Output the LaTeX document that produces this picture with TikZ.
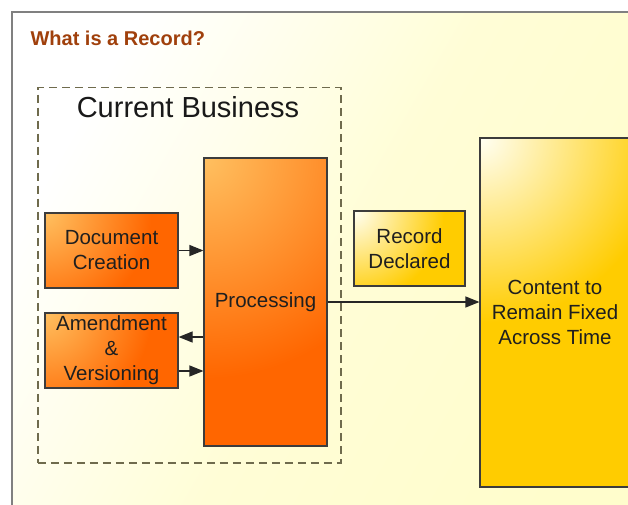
\documentclass[tikz,border=0pt]{standalone}
\usepackage{fontspec}
\setmainfont{Liberation Sans}
\usetikzlibrary{arrows.meta, positioning}

\definecolor{titlebrown}{HTML}{A0400C}
\definecolor{boxedge}{HTML}{3C3C3C}
\definecolor{orangelight}{HTML}{FFC060}
\definecolor{orangedark}{HTML}{FF6600}
\definecolor{yellowlight}{HTML}{FFFFF4}
\definecolor{yellowdark}{HTML}{FFCC00}
\definecolor{paleyellow}{HTML}{FFFDCC}

\pgfdeclareradialshading{orangeglow}{\pgfpoint{0bp}{0bp}}{color(0bp)=(orangelight); color(19bp)=(orangedark); color(50bp)=(orangedark)}
\pgfdeclareradialshading{yellowglow}{\pgfpoint{0bp}{0bp}}{color(0bp)=(yellowlight); color(18bp)=(yellowdark); color(50bp)=(yellowdark)}
\pgfdeclareradialshading{yellowcorner}{\pgfpoint{0bp}{0bp}}{color(0bp)=(yellowlight); color(13bp)=(yellowdark); color(50bp)=(yellowdark)}

\begin{document}
\begin{tikzpicture}[
        x=1pt, y=-1pt,
        boxtext/.style={font=\fontsize{20.5}{25}\selectfont, text=black!88, align=center},
        glowbox/.style 2 args={draw=boxedge, line width=1.2pt, boxtext, inner sep=0pt,
            path picture={\shade[shading=#1]
                ([shift={(-#2,-#2)}]path picture bounding box.north west) rectangle
                ([shift={(#2,#2)}]path picture bounding box.north west);}},
        orangebox/.style={glowbox={orangeglow}{#1}},
        yellowbox/.style={glowbox={yellowglow}{#1}},
        arrow/.style={-{Triangle[length=14pt, width=11pt]}, line width=1.2pt, draw=black!85}
    ]
    \useasboundingbox (0,0) rectangle (628,505);
    \clip (0,0) rectangle (628,505);

    % Frame and background
    \shade[top color=white, bottom color=paleyellow, middle color=paleyellow!80!white, shading angle=60]
        (12,12) rectangle (660,530);
    \draw[line width=2pt, draw=black!50] (12,530) -- (12,12) -- (660,12);

    \node[anchor=west, text=titlebrown, font=\bfseries\fontsize{20}{24}\selectfont] (title) at (27,38) {What is a Record?};

    % Current business group
    \node[draw=black!50!olive!60!gray, dashed, dash pattern=on 8pt off 5pt, line width=1.5pt,
          minimum width=303, minimum height=375, anchor=north west] (business) at (37,87) {};
    \node[font=\fontsize{29}{33}\selectfont, text=black!90] (businesslabel) at (188,107) {Current Business};

    % Nodes
    \node[orangebox=140pt, minimum width=133, minimum height=75] (doc) at (111.5,250.5) {Document\\Creation};
    \node[orangebox=140pt, minimum width=133, minimum height=75] (amend) at (111.5,350.5) {Amendment\\\&\\Versioning};
    \node[orangebox=290pt, minimum width=123, minimum height=288] (proc) at (265.5,302) {Processing};
    \node[yellowbox=125pt, minimum width=111, minimum height=75] (rec) at (409.5,248.5) {Record\\Declared};
    \node[glowbox={yellowcorner}{355pt}, minimum width=150, minimum height=349] (content) at (555,312.5) {Content to\\Remain Fixed\\Across Time};

    % Arrows
    \coordinate (amendout) at ([yshift=13.5pt]amend.east);
    \coordinate (amendin) at ([yshift=-20.5pt]amend.east);
    \draw[arrow] (doc.east) -- (doc.east -| proc.west);
    \draw[arrow] (amendout -| proc.west) -- (amendout);
    \draw[arrow] (amendin) -- (amendin -| proc.west);
    \draw[arrow] (proc.east) -- (proc.east -| content.west);

\end{tikzpicture}
\end{document}
